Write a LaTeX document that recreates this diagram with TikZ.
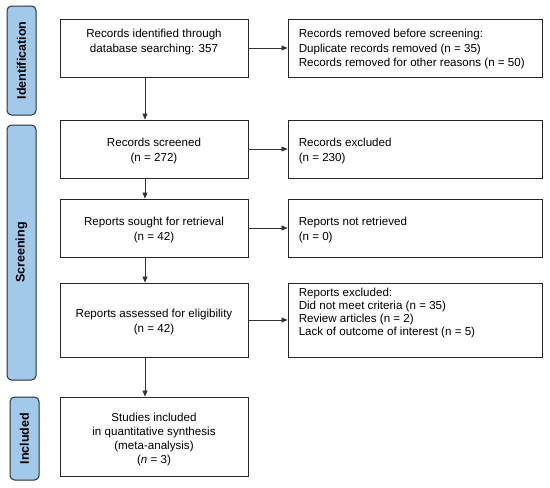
\documentclass[tikz,border=0pt]{standalone}
\usepackage{fontspec}
\setmainfont{Liberation Sans}
\usetikzlibrary{arrows.meta}
\definecolor{phasefill}{HTML}{A3C9EA}
\definecolor{phaseline}{HTML}{22313F}
\definecolor{boxline}{HTML}{262626}
\definecolor{arrowline}{HTML}{333333}
\begin{document}
\begin{tikzpicture}[x=1pt,y=-1pt,
  txt/.style={font=\fontsize{11.6}{14.2}\selectfont},
  lbox/.style={draw=boxline, line width=0.9pt, fill=white, minimum width=188pt, inner sep=0pt},
  rbox/.style={draw=boxline, line width=0.9pt, fill=white, minimum width=254pt, inner sep=0pt},
  ltxt/.style={txt, align=center, inner sep=0pt, yshift=-2pt},
  rtxt/.style={txt, align=left, anchor=west, inner sep=0pt, xshift=11pt, yshift=-2pt},
  phase/.style={draw=phaseline, fill=phasefill, line width=1pt, rounded corners=4.5pt, rotate=90, inner sep=0pt, minimum height=29pt, font=\bfseries\fontsize{12.5}{14}\selectfont, text=black},
  arr/.style={draw=arrowline, line width=0.6pt, -{Triangle[length=6pt,width=5pt]}}
]
\useasboundingbox (0,0) rectangle (550,488);
% phase bars
\node[phase, minimum width=109pt] (p1) at (21.5,60.5) {Identification};
\node[phase, minimum width=255pt] (p2) at (21.5,252.5) {Screening};
\node[phase, minimum width=83pt] (p3) at (24.5,438.5) {Included};
% left column
\node[lbox, minimum height=58pt, label={[ltxt, yshift=8pt, name=b1t]center:Records identified through\\database searching: 357}] (b1) at (154,48) {};
\node[lbox, minimum height=58pt, label={[ltxt, name=b2t]center:Records screened\\(n = 272)}] (b2) at (154,149) {};
\node[lbox, minimum height=58pt, label={[ltxt, name=b3t]center:Reports sought for retrieval\\(n = 42)}] (b3) at (154,228) {};
\node[lbox, minimum height=74pt, label={[ltxt, name=b4t]center:Reports assessed for eligibility\\(n = 42)}] (b4) at (154,320) {};
\node[lbox, minimum height=79pt, label={[ltxt, yshift=-1pt, font=\fontsize{11.6}{14}\selectfont, name=b5t]center:Studies included\\in quantitative synthesis\\(meta-analysis)\\(\textit{n} = 3)}] (b5) at (154,436.5) {};
% right column
\node[rbox, minimum height=58pt, label={[rtxt, yshift=1pt, font=\fontsize{11.6}{14.8}\selectfont, name=r1t]west:Records removed before screening:\\Duplicate records removed (n = 35)\\Records removed for other reasons (n = 50)}] (r1) at (415,48) {};
\node[rbox, minimum height=58pt, label={[rtxt, name=r2t]west:Records excluded\\(n = 230)}] (r2) at (415,149) {};
\node[rbox, minimum height=58pt, label={[rtxt, name=r3t]west:Reports not retrieved\\(n = 0)}] (r3) at (415,228) {};
\node[rbox, minimum height=74pt, label={[rtxt, anchor=north west, yshift=-3pt, font=\fontsize{11.6}{13.2}\selectfont, name=r4t]north west:Reports excluded:\\Did not meet criteria (n = 35)\\Review articles (n = 2)\\Lack of outcome of interest (n = 5)}] (r4) at (415,320) {};
% connectors
\coordinate (ax) at (145,0);
\draw[arr] (b1.south -| ax) -- (b2.north -| ax);
\draw[arr] (b2.south -| ax) -- (b3.north -| ax);
\draw[arr] (b3.south -| ax) -- (b4.north -| ax);
\draw[arr] (b4.south -| ax) -- (b5.north -| ax);
\draw[arr] (b1.east) -- (r1.west);
\draw[arr] (b2.east) -- (r2.west);
\draw[arr] (b3.east) -- (r3.west);
\draw[arr] (b4.east) -- (r4.west);
\end{tikzpicture}
\end{document}
